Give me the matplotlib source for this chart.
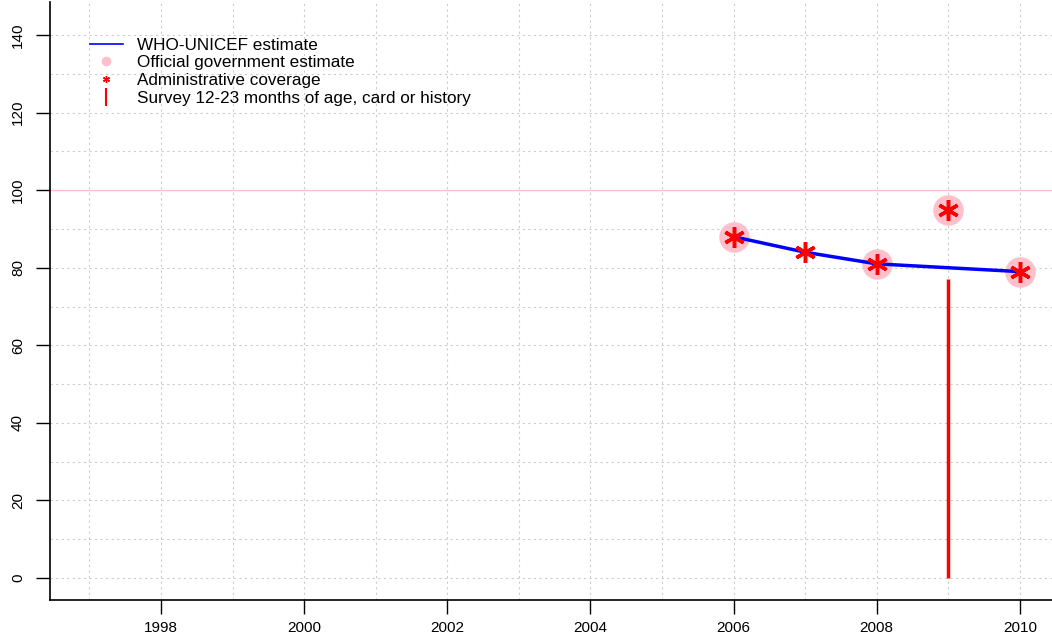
import matplotlib
matplotlib.use("Agg")
import matplotlib.pyplot as plt
from matplotlib.lines import Line2D

# data
years_wuenic = [2006, 2007, 2008, 2009, 2010]
wuenic = [88, 84, 81, 80, 79]
years_gov = [2006, 2008, 2009, 2010]
gov = [88, 81, 95, 79]
years_admin = [2006, 2007, 2008, 2009, 2010]
admin = [88, 84, 81, 95, 79]
survey_years = [2009]
survey = [77]
xticks = [1998, 2000, 2002, 2004, 2006, 2008, 2010]
yticks = [0, 20, 40, 60, 80, 100, 120, 140]

plt.rcParams['font.family'] = ['Liberation Sans', 'DejaVu Sans']

fig = plt.figure(figsize=(10.52, 6.38), dpi=100)
ax = fig.add_axes([50/1052, 38/638, 1 - 50/1052, 1 - 38/638 - 2/638])

ax.set_xlim(1996.45, 2010.45)
ax.set_ylim(-5.65, 148.5)

# grid
for yr in range(1997, 2011):
    ax.axvline(yr, color='#cccccc', ls=(0, (2, 3)), lw=0.8, zorder=0)
for v in range(0, 141, 10):
    if v != 100:
        ax.axhline(v, color='#cccccc', ls=(0, (2, 3)), lw=0.8, zorder=0)
ax.axhline(100, color='pink', lw=1.0, zorder=1)

ax.plot(years_wuenic, wuenic, color='blue', lw=2.5, zorder=3)
ax.plot(years_gov, gov, 'o', color='pink', ms=22, mec='none', zorder=2)
ax.plot(years_admin, admin, ls='none', marker=(6, 2, 0), color='red', ms=15, mew=2.5, zorder=4)
ax.vlines(survey_years, 0, survey, color='red', lw=2.5, zorder=3)

ax.set_xticks(xticks)
ax.set_yticks(yticks)
ax.set_yticklabels([str(t) for t in yticks], rotation=90, va='center')
ax.tick_params(direction='out', length=10, width=1, labelsize=11)
ax.tick_params(axis='x', pad=5)
ax.tick_params(axis='y', pad=8)
for s in ['top', 'right']:
    ax.spines[s].set_visible(False)
for s in ['left', 'bottom']:
    ax.spines[s].set_linewidth(1.2)

handles = [
    Line2D([], [], color='blue', lw=1.2),
    Line2D([], [], ls='none', marker='o', color='pink', ms=6),
    Line2D([], [], ls='none', marker=(6, 2, 0), color='red', ms=5, mew=1),
    Line2D([], [], ls='none', marker='|', color='red', ms=13, mew=1.5),
]
labels = ['WHO-UNICEF estimate', 'Official government estimate',
          'Administrative coverage', 'Survey 12-23 months of age, card or history']
ax.legend(handles, labels, loc='upper left', bbox_to_anchor=(0.040, 0.94),
          frameon=False, handlelength=1.9, handletextpad=0.85,
          labelspacing=0.15, borderaxespad=0, borderpad=0,
          prop={'size': 12.3})

fig.savefig('out.png', dpi=100)
